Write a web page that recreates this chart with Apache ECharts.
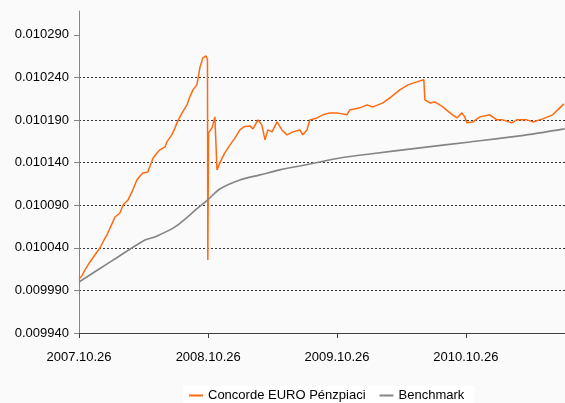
<!DOCTYPE html>
<html>
<head>
<meta charset="utf-8">
<title>Concorde EURO Pénzpiaci</title>
<script src="https://cdn.jsdelivr.net/npm/echarts@6/dist/echarts.min.js"></script>
<style>
  html, body { margin: 0; padding: 0; background: #fafafa; }
  #main { width: 565px; height: 403px; }
</style>
</head>
<body>
<div id="main"></div>
<script>
// kezdő dátum, napok száma ettől
var startDate = Date.UTC(2007, 9, 26);
var DAY = 24 * 3600 * 1000;

var fundDays = [0, 8, 17, 31, 45, 59, 71, 79, 88, 96, 102, 116, 125, 139, 150, 164, 173, 181, 195, 210,
  221, 229, 244, 249, 263, 272, 280, 292, 306, 314, 323, 334, 343, 351, 360, 364, 365, 367, 377, 385,
  388, 391, 399, 413, 428, 442, 456, 467, 484, 493, 507, 518, 527, 535, 547, 561, 575, 589, 606, 626,
  634, 646, 654, 674, 691, 711, 731, 759, 767, 796, 816, 833, 861, 881, 909, 932, 957, 977, 980, 994,
  1008, 1031, 1051, 1071, 1085, 1093, 1099, 1116, 1136, 1164, 1184, 1201, 1226, 1240, 1269, 1286, 1314, 1342, 1362, 1374];
var fundValues = [0.0100034, 0.0100069, 0.0100140, 0.0100234, 0.0100316, 0.0100398, 0.0100492, 0.0100551, 0.0100633, 0.0100704,
  0.0100762, 0.0100809, 0.0100903, 0.0100962, 0.0101056, 0.0101197, 0.0101244, 0.0101279, 0.0101291, 0.0101455,
  0.0101514, 0.0101549, 0.0101585, 0.0101643, 0.0101726, 0.0101808, 0.0101890, 0.0101984, 0.0102078, 0.0102172,
  0.0102254, 0.0102313, 0.0102524, 0.0102630, 0.0102653, 0.0102607, 0.0100257, 0.0101749, 0.0101808, 0.0101937,
  0.0101949, 0.0101315, 0.0101397, 0.0101514, 0.0101608, 0.0101690, 0.0101784, 0.0101820, 0.0101831, 0.0101796,
  0.0101902, 0.0101843, 0.0101667, 0.0101784, 0.0101761, 0.0101878, 0.0101784, 0.0101726, 0.0101761, 0.0101784,
  0.0101726, 0.0101784, 0.0101902, 0.0101925, 0.0101961, 0.0101984, 0.0101984, 0.0101961, 0.0102019, 0.0102043,
  0.0102078, 0.0102054, 0.0102101, 0.0102160, 0.0102254, 0.0102313, 0.0102348, 0.0102372, 0.0102137, 0.0102101,
  0.0102113, 0.0102054, 0.0101984, 0.0101925, 0.0101984, 0.0101937, 0.0101867, 0.0101878, 0.0101937, 0.0101961,
  0.0101902, 0.0101902, 0.0101867, 0.0101902, 0.0101902, 0.0101878, 0.0101914, 0.0101961, 0.0102043, 0.0102090];

var benchDays = [0, 93, 187, 215, 272, 337, 365, 399, 456, 513, 569, 626, 682, 739, 824, 966, 1108, 1249, 1376];
var benchValues = [0.0099999, 0.0100246, 0.0100492, 0.0100528, 0.0100645, 0.0100868, 0.0100962, 0.0101091, 0.0101197, 0.0101256,
  0.0101315, 0.0101361, 0.0101408, 0.0101455, 0.0101502, 0.0101573, 0.0101643, 0.0101714, 0.0101796];

// 2007.10.26, 2008.10.26, 2009.10.26, 2010.10.26 (napokban)
var xTicks = [0, 366, 731, 1096];
var yTicks = [0.00994, 0.00999, 0.01004, 0.01009, 0.01014, 0.01019, 0.01024, 0.01029];

function toSeries(days, values) {
  var out = [];
  for (var i = 0; i < days.length; i++) {
    out.push([days[i], values[i]]);
  }
  return out;
}

function fmtDate(v) {
  var d = new Date(startDate + Math.round(v) * DAY);
  var m = d.getUTCMonth() + 1, dd = d.getUTCDate();
  return d.getUTCFullYear() + '.' + (m < 10 ? '0' + m : m) + '.' + (dd < 10 ? '0' + dd : dd);
}

var myChart = echarts.init(document.getElementById('main'));
var option = {
  backgroundColor: '#fafafa',
  animation: false,
  textStyle: { fontFamily: 'Liberation Sans, Arial, sans-serif' },
  grid: { left: 79, right: 0, top: 11, bottom: 70 },
  legend: {
    bottom: 0,
    left: 183,
    icon: 'rect',
    itemWidth: 14,
    itemHeight: 2,
    itemGap: 14,
    padding: [3, 10, 1, 6],
    backgroundColor: '#ffffff',
    textStyle: { fontSize: 13, color: '#000' },
    data: ['Concorde EURO Pénzpiaci', 'Benchmark']
  },
  xAxis: {
    type: 'value',
    min: 0,
    max: 1377,
    axisLine: { lineStyle: { color: '#404040', width: 1 } },
    axisTick: { show: true, length: 5, customValues: xTicks, lineStyle: { color: '#404040' } },
    axisLabel: {
      customValues: xTicks,
      formatter: fmtDate,
      fontSize: 13,
      color: '#000',
      margin: 18
    },
    splitLine: { show: false }
  },
  yAxis: {
    type: 'value',
    min: 0.00994,
    max: 0.010318,
    interval: 0.00005,
    axisLine: { show: true, lineStyle: { color: '#868686', width: 1 } },
    axisTick: { show: true, length: 5, customValues: yTicks, lineStyle: { color: '#868686' } },
    axisLabel: {
      customValues: yTicks,
      formatter: function (v) { return v.toFixed(6); },
      fontSize: 13,
      color: '#000',
      margin: 10
    },
    splitLine: {
      show: true,
      showMinLine: false,
      showMaxLine: false,
      lineStyle: { color: '#333', type: [2, 2], width: 1 }
    }
  },
  series: [
    {
      name: 'Concorde EURO Pénzpiaci',
      type: 'line',
      showSymbol: false,
      lineStyle: { color: '#ff6a10', width: 1.5 },
      itemStyle: { color: '#ff6a10' },
      data: toSeries(fundDays, fundValues)
    },
    {
      name: 'Benchmark',
      type: 'line',
      showSymbol: false,
      smooth: 0.3,
      lineStyle: { color: '#858585', width: 1.6 },
      itemStyle: { color: '#858585' },
      data: toSeries(benchDays, benchValues)
    }
  ]
};
myChart.setOption(option);
</script>
</body>
</html>
